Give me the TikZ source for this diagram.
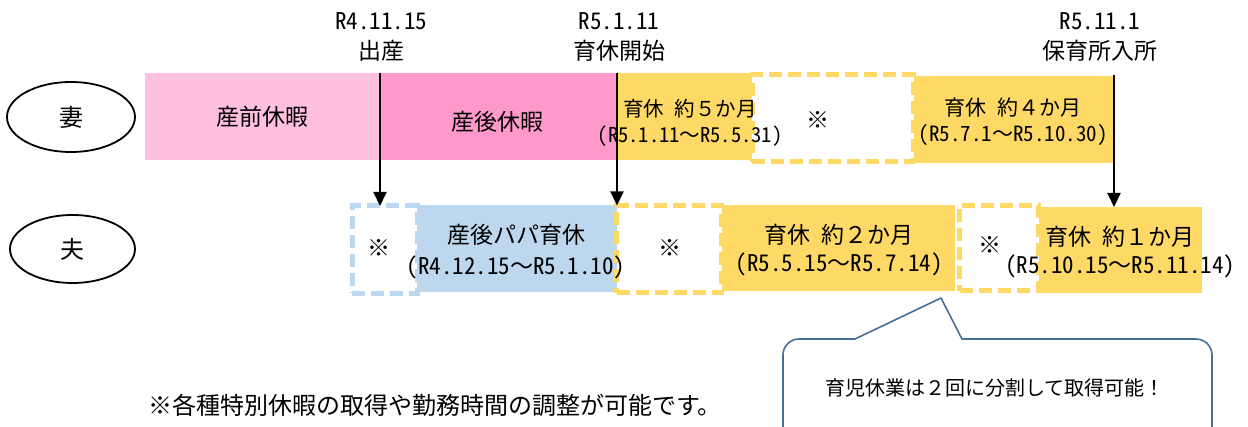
\documentclass[tikz,border=0pt]{standalone}
\usepackage{fontspec}
\setmainfont{Noto Sans CJK JP}
\newfontfamily\hw[RawFeature=+hwid]{Noto Sans CJK JP}
\usetikzlibrary{arrows.meta,shapes.geometric}
\definecolor{pinkL}{RGB}{255,191,223}
\definecolor{pinkD}{RGB}{255,153,204}
\definecolor{yel}{RGB}{255,217,102}
\definecolor{blu}{RGB}{189,215,238}
\definecolor{bub}{RGB}{71,110,150}
\newcommand{\hsp}{\hspace{0.5em}}
\begin{document}
\begin{tikzpicture}[x=1pt,y=-1pt,
  bar/.style={draw=none,inner sep=0pt,outer sep=0pt},
  dbox/.style={draw=#1,fill=white,line width=5pt,dash pattern=on 13pt off 6pt,inner sep=0pt,outer sep=0pt},
  ell/.style={ellipse,draw,line width=1.8pt,inner sep=0pt,font=\fontsize{24}{24}\selectfont},
  lab/.style={inner sep=0pt,align=center},
  arr/.style={line width=2pt,-{Triangle[width=13pt,length=14pt]}}]
\useasboundingbox (0,0) rectangle (1248,427);
\clip (0,0) rectangle (1248,427);
% ellipses
\node[ell,minimum width=128,minimum height=70] (wife) at (71,117) {妻};
\node[ell,minimum width=125,minimum height=68] (husb) at (72.5,249) {夫};
% wife bars
\node[bar,fill=pinkL,minimum width=235,minimum height=87] (w1) at (262.5,116.5) {};
\node[bar,fill=pinkD,minimum width=237,minimum height=87] (w2) at (498.5,116.5) {};
\node[bar,fill=yel,minimum width=135,minimum height=87] (w3) at (684.5,116.5) {};
\node[bar,fill=yel,minimum width=200,minimum height=87] (w4) at (1014,119.5) {};
\node[dbox=yel,minimum width=161,minimum height=87.5] (wd) at (832.5,118.25) {};
% husband bars
\node[bar,fill=blu,minimum width=204,minimum height=87] (h1) at (515,248.5) {};
\node[bar,fill=yel,minimum width=234,minimum height=86] (h2) at (838,248) {};
\node[bar,fill=yel,minimum width=163,minimum height=86] (h3) at (1120.5,250) {};
\node[dbox=blu,minimum width=65,minimum height=87.5] (hd1) at (384.5,249.75) {};
\node[dbox=yel,minimum width=105,minimum height=87.5] (hd2) at (669,249.25) {};
\node[dbox=yel,minimum width=79,minimum height=85.5] (hd3) at (999,248.25) {};
% date labels
\node[lab,font=\fontsize{23}{30}\selectfont] (d1) at (381,37) {\hw R4.11.15\\出産};
\node[lab,font=\fontsize{23}{30}\selectfont] (d2) at (619,37) {\hw R5.1.11\\育休開始};
\node[lab,font=\fontsize{23}{30}\selectfont] (d3) at (1100,37) {\hw R5.11.1\\保育所入所};
% wife texts
\node[lab,font=\fontsize{23}{28}\selectfont] (t1) at (w1.center) {産前休暇};
\node[lab,font=\fontsize{23}{28}\selectfont] (t2) at (497,122) {産後休暇};
\node[lab,font=\fontsize{20.5}{26}\selectfont] (t3) at (690,123) {育休\hsp 約５か月\\{\hw (R5.1.11}～{\hw R5.5.31)}};
\node[lab,font=\fontsize{23}{28}\selectfont] (t4) at (818,120) {※};
\node[lab,font=\fontsize{21}{26}\selectfont] (t5) at (1013,122) {育休\hsp 約４か月\\{\hw (R5.7.1}～{\hw R5.10.30)}};
% husband texts
\node[lab,font=\fontsize{23}{28}\selectfont] (u1) at (379,248) {※};
\node[lab,font=\fontsize{23}{31}\selectfont] (u2) at (516,252) {産後パパ育休\\{\hw (R4.12.15}～{\hw R5.1.10)}};
\node[lab,font=\fontsize{23}{28}\selectfont] (u3) at (670,248) {※};
\node[lab,font=\fontsize{23}{28}\selectfont] (u4) at (839,250) {育休\hsp 約２か月\\{\hw (R5.5.15}～{\hw R5.7.14)}};
\node[lab,font=\fontsize{23}{28}\selectfont] (u5) at (990,245) {※};
\node[lab,font=\fontsize{23}{28}\selectfont] (u6) at (1120,252) {育休\hsp 約１か月\\{\hw (R5.10.15}～{\hw R5.11.14)}};
% arrows
\coordinate (a1) at (380,73);
\coordinate (a2) at (617,73);
\coordinate (a3) at (1114,75);
\draw[arr] (a1) -- (a1 |- hd1.north);
\draw[arr] (a2) -- (a2 |- hd2.north);
\draw[arr] (a3) -- (a3 |- h3.north);
% speech bubble
\draw[draw=bub,line width=1.6pt,fill=white,line join=round]
  (783,440) -- (783,355) arc(180:270:16) -- (855,339) -- (941,298) -- (962,339)
  -- (1196,339) arc(270:360:16) -- (1212,440);
\node[lab,font=\fontsize{20}{24}\selectfont] (bt) at (995,388) {育児休業は２回に分割して取得可能！};
% footnote
\node[lab,font=\fontsize{24}{28}\selectfont] (fn) at (435,405) {※各種特別休暇の取得や勤務時間の調整が可能です。};
\end{tikzpicture}
\end{document}
